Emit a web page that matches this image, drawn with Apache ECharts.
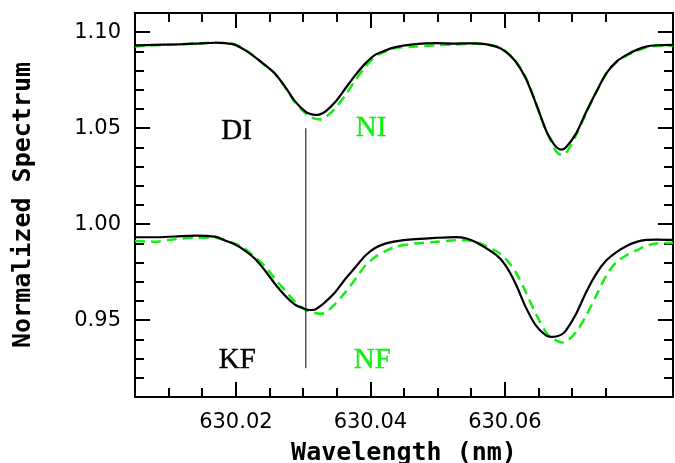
<!DOCTYPE html>
<html>
<head>
<meta charset="utf-8">
<script src="https://cdn.jsdelivr.net/npm/echarts@6/dist/echarts.min.js"></script>
<style>
html,body{margin:0;padding:0;background:#fff;}
#chart{width:675px;height:463px;}
</style>
</head>
<body>
<div id="chart"></div>
<script>
const wavelength = [630.0050,630.0079,630.0109,630.0139,630.0169,630.0184,630.0199,630.0213,630.0228,630.0243,
  630.0258,630.0273,630.0288,630.0303,630.0310,630.0318,630.0325,630.0333,630.0348,630.0363,
  630.0378,630.0393,630.0407,630.0422,630.0437,630.0467,630.0497,630.0527,630.0542,630.0557,
  630.0587,630.0601,630.0616,630.0631,630.0646,630.0661,630.0669,630.0676,630.0684,630.0691,
  630.0706,630.0721,630.0736,630.0751,630.0766,630.0781,630.0796,630.0810,630.0825,630.0850];
const diSpectrum = [1.0931,1.0934,1.0936,1.0940,1.0945,1.0943,1.0934,1.0908,1.0872,1.0830,
  1.0785,1.0717,1.0640,1.0588,1.0575,1.0569,1.0572,1.0586,1.0638,1.0708,
  1.0778,1.0839,1.0882,1.0904,1.0922,1.0938,1.0943,1.0941,1.0942,1.0942,
  1.0925,1.0899,1.0847,1.0760,1.0630,1.0490,1.0438,1.0403,1.0388,1.0401,
  1.0473,1.0586,1.0690,1.0787,1.0847,1.0882,1.0908,1.0925,1.0932,1.0934];
const niSpectrum = [1.0925,1.0932,1.0936,1.0941,1.0946,1.0944,1.0936,1.0910,1.0873,1.0828,
  1.0785,1.0715,1.0635,1.0580,1.0560,1.0550,1.0545,1.0556,1.0605,1.0673,
  1.0752,1.0821,1.0873,1.0899,1.0917,1.0925,1.0932,1.0936,1.0938,1.0940,
  1.0927,1.0901,1.0850,1.0765,1.0632,1.0488,1.0430,1.0380,1.0362,1.0370,
  1.0465,1.0580,1.0688,1.0785,1.0845,1.0878,1.0902,1.0920,1.0928,1.0930];
const kfSpectrum = [0.9932,0.9932,0.9936,0.9941,0.9935,0.9915,0.9894,0.9864,0.9821,0.9760,
  0.9690,0.9629,0.9581,0.9558,0.9553,0.9556,0.9572,0.9595,0.9647,0.9716,
  0.9777,0.9838,0.9876,0.9899,0.9911,0.9922,0.9929,0.9933,0.9927,0.9906,
  0.9840,0.9786,0.9690,0.9568,0.9473,0.9421,0.9413,0.9415,0.9425,0.9447,
  0.9534,0.9647,0.9743,0.9812,0.9855,0.9887,0.9908,0.9918,0.9920,0.9918];
const nfSpectrum = [0.9913,0.9908,0.9922,0.9929,0.9929,0.9916,0.9899,0.9873,0.9829,0.9782,
  0.9716,0.9656,0.9595,0.9556,0.9543,0.9538,0.9534,0.9539,0.9586,0.9647,
  0.9716,0.9786,0.9829,0.9859,0.9882,0.9899,0.9908,0.9916,0.9916,0.9908,
  0.9860,0.9821,0.9751,0.9647,0.9534,0.9438,0.9410,0.9395,0.9384,0.9388,
  0.9438,0.9525,0.9629,0.9734,0.9803,0.9838,0.9864,0.9887,0.9899,0.9904];

const markerLineX = [630.0304, 630.0304];
const markerLineY = [1.05, 0.925];

const annotationText = ['DI', 'NI', 'KF', 'NF'];
const annotationX = [630.0201, 630.0401, 630.0202, 630.0403];
const annotationY = [1.0485, 1.0501, 0.929, 0.929];

const xMajorTicks = [630.02, 630.04, 630.06];
const xMinorTicks = [630.01, 630.015, 630.025, 630.03, 630.035, 630.045, 630.05, 630.055, 630.065, 630.07, 630.075];
const yMajorTicks = [0.95, 1.00, 1.05, 1.10];
const yMinorTicks = [0.92, 0.93, 0.94, 0.96, 0.97, 0.98, 0.99, 1.01, 1.02, 1.03, 1.04, 1.06, 1.07, 1.08, 1.09];

const X_MIN = 630.005, X_MAX = 630.085, Y_MIN = 0.91, Y_MAX = 1.11;
const GREEN = '#11ee11';

function zip(xs, ys) { return xs.map((x, i) => [x, ys[i]]); }

function makeX(position, ticks, len, withLabels) {
  const ax = {
    type: 'value', gridIndex: 0, position: position, min: X_MIN, max: X_MAX,
    splitLine: { show: false },
    axisLine: { show: true, onZero: false, lineStyle: { color: '#000', width: 2 } },
    axisTick: { show: true, inside: true, length: len, customValues: ticks, lineStyle: { color: '#000', width: 2 } },
    axisLabel: { show: false }
  };
  if (withLabels) {
    ax.axisLabel = {
      show: true, customValues: ticks, margin: 15,
      formatter: v => v.toFixed(2),
      fontFamily: 'DejaVu Sans', fontSize: 21, color: '#000'
    };
    ax.name = 'Wavelength (nm)';
    ax.nameLocation = 'middle';
    ax.nameGap = 44;
    ax.nameTextStyle = { fontFamily: 'DejaVu Sans Mono', fontWeight: 'bold', fontSize: 25, color: '#000' };
  }
  return ax;
}
function makeY(position, ticks, len, withLabels) {
  const ax = {
    type: 'value', gridIndex: 0, position: position, min: Y_MIN, max: Y_MAX,
    splitLine: { show: false },
    axisLine: { show: true, onZero: false, lineStyle: { color: '#000', width: 2 } },
    axisTick: { show: true, inside: true, length: len, customValues: ticks, lineStyle: { color: '#000', width: 2 } },
    axisLabel: { show: false }
  };
  if (withLabels) {
    ax.axisLabel = {
      show: true, customValues: ticks, margin: 14,
      formatter: v => v.toFixed(2),
      fontFamily: 'DejaVu Sans', fontSize: 21, color: '#000'
    };
    ax.name = 'Normalized Spectrum';
    ax.nameLocation = 'middle';
    ax.nameGap = 99;
    ax.nameTextStyle = { fontFamily: 'DejaVu Sans Mono', fontWeight: 'bold', fontSize: 25, color: '#000' };
  }
  return ax;
}

const chart = echarts.init(document.getElementById('chart'), null, { renderer: 'canvas' });

const annotationData = annotationText.map((t, i) => {
  const c = (t[0] === 'N') ? GREEN : '#000';
  return {
    name: t, value: [annotationX[i], annotationY[i]],
    label: { color: c, textBorderColor: c, textBorderWidth: 0.4 }
  };
});

chart.setOption({
  animation: false,
  backgroundColor: '#fff',
  grid: { left: 135, top: 13, width: 538, height: 384, outerBoundsMode: 'none', containLabel: false },
  xAxis: [
    makeX('bottom', xMinorTicks, 9, false),
    makeX('bottom', xMajorTicks, 15, true),
    makeX('top', xMinorTicks, 9, false),
    makeX('top', xMajorTicks, 15, false)
  ],
  yAxis: [
    makeY('left', yMinorTicks, 9, false),
    makeY('left', yMajorTicks, 15, true),
    makeY('right', yMinorTicks, 9, false),
    makeY('right', yMajorTicks, 15, false)
  ],
  series: [
    { type: 'line', name: 'NI', xAxisIndex: 0, yAxisIndex: 0, data: zip(wavelength, niSpectrum),
      showSymbol: false, smooth: 0.3, lineStyle: { color: GREEN, width: 2.5, type: [10, 6] }, z: 2 },
    { type: 'line', name: 'NF', xAxisIndex: 0, yAxisIndex: 0, data: zip(wavelength, nfSpectrum),
      showSymbol: false, smooth: 0.3, lineStyle: { color: GREEN, width: 2.5, type: [10, 6] }, z: 2 },
    { type: 'line', name: 'DI', xAxisIndex: 0, yAxisIndex: 0, data: zip(wavelength, diSpectrum),
      showSymbol: false, smooth: 0.3, lineStyle: { color: '#000', width: 2.2 }, z: 3 },
    { type: 'line', name: 'KF', xAxisIndex: 0, yAxisIndex: 0, data: zip(wavelength, kfSpectrum),
      showSymbol: false, smooth: 0.3, lineStyle: { color: '#000', width: 2.2 }, z: 3 },
    { type: 'line', name: 'marker', xAxisIndex: 0, yAxisIndex: 0, data: zip(markerLineX, markerLineY),
      showSymbol: false, lineStyle: { color: '#000', width: 1 }, z: 4 },
    { type: 'scatter', name: 'labels', xAxisIndex: 0, yAxisIndex: 0, data: annotationData,
      symbolSize: 1, itemStyle: { color: 'rgba(0,0,0,0)', opacity: 1 },
      label: { show: true, position: 'inside', formatter: p => p.name,
        fontFamily: 'Liberation Serif', fontSize: 29 }, z: 5 }
  ]
});
</script>
</body>
</html>
